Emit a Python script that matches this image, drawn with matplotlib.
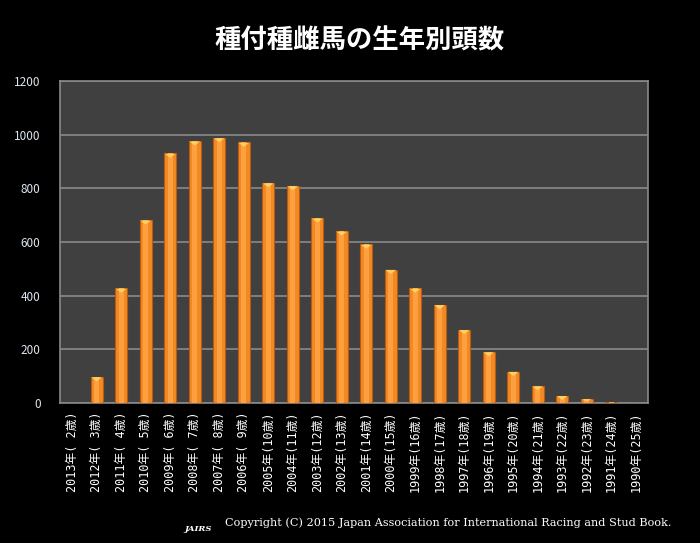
import numpy as np
import matplotlib
matplotlib.use("Agg")
import matplotlib.pyplot as plt

plt.rcParams['font.family'] = ['Noto Sans CJK JP', 'DejaVu Sans']

# birth year / age of broodmares
years = [2013, 2012, 2011, 2010, 2009, 2008, 2007, 2006, 2005, 2004, 2003, 2002,
         2001, 2000, 1999, 1998, 1997, 1996, 1995, 1994, 1993, 1992, 1991, 1990]
ages = list(range(2, 26))
counts = [0, 97, 427, 681, 930, 976, 988, 971, 820, 809, 689, 640,
          591, 497, 427, 366, 273, 190, 117, 63, 27, 15, 2, 1]

labels = ["%d年(%s歳)" % (y, str(a).rjust(2)) for y, a in zip(years, ages)]

fig = plt.figure(figsize=(7, 5.43), dpi=100, facecolor='black')
ax = fig.add_axes([0.0857, 0.2578, 0.84, 0.5930])
ax.set_facecolor('#404040')

x = np.arange(len(counts))
ax.bar(x, counts, width=0.5, color='#F28A22', edgecolor='#B85A14', linewidth=0.8, zorder=3)
# lighter centre strip for the shaded look
ax.bar(x, counts, width=0.2, color='#FFA040', linewidth=0, zorder=4)
# small highlight at top of each bar
for xi, c in zip(x, counts):
    if c > 5:
        tip = c - 16 if c > 20 else max(c - 8, 0)
        ax.fill([xi - 0.22, xi + 0.22, xi], [c - 1, c - 1, tip],
                color='#FFD060', zorder=5, linewidth=0)

ax.set_xlim(-0.5, len(counts) - 0.5)
ax.set_ylim(0, 1200)
ax.set_yticks(range(0, 1201, 200))
ax.yaxis.grid(True, color='#8A8A8A', linewidth=1.2, zorder=1)
ax.set_axisbelow(True)

ax.set_xticks(x)
ax.set_xticklabels(labels, rotation=90, fontsize=8.5, color='white',
                   family=['DejaVu Sans Mono', 'Noto Sans CJK JP'])
ax.tick_params(axis='y', labelsize=8.5, colors='#DDE6F0', length=0, pad=14)
ax.tick_params(axis='x', length=0, pad=6)

for side in ['top', 'right', 'left', 'bottom']:
    ax.spines[side].set_color('#8A8A8A')
    ax.spines[side].set_linewidth(1.2)

fig.text(0.513, 0.925, "種付種雌馬の生年別頭数", color='white', fontsize=19,
         fontweight='bold', ha='center', va='center')

fig.text(0.283, 0.025, "JAIRS", color='white', fontsize=6, fontstyle='italic',
         fontweight='bold', family='DejaVu Serif', ha='center', va='center')
fig.text(0.322, 0.037, "Copyright (C) 2015 Japan Association for International Racing and Stud Book.",
         color='white', fontsize=8.15, family='DejaVu Serif', ha='left', va='center')

fig.savefig("out.png", dpi=100, facecolor='black')
